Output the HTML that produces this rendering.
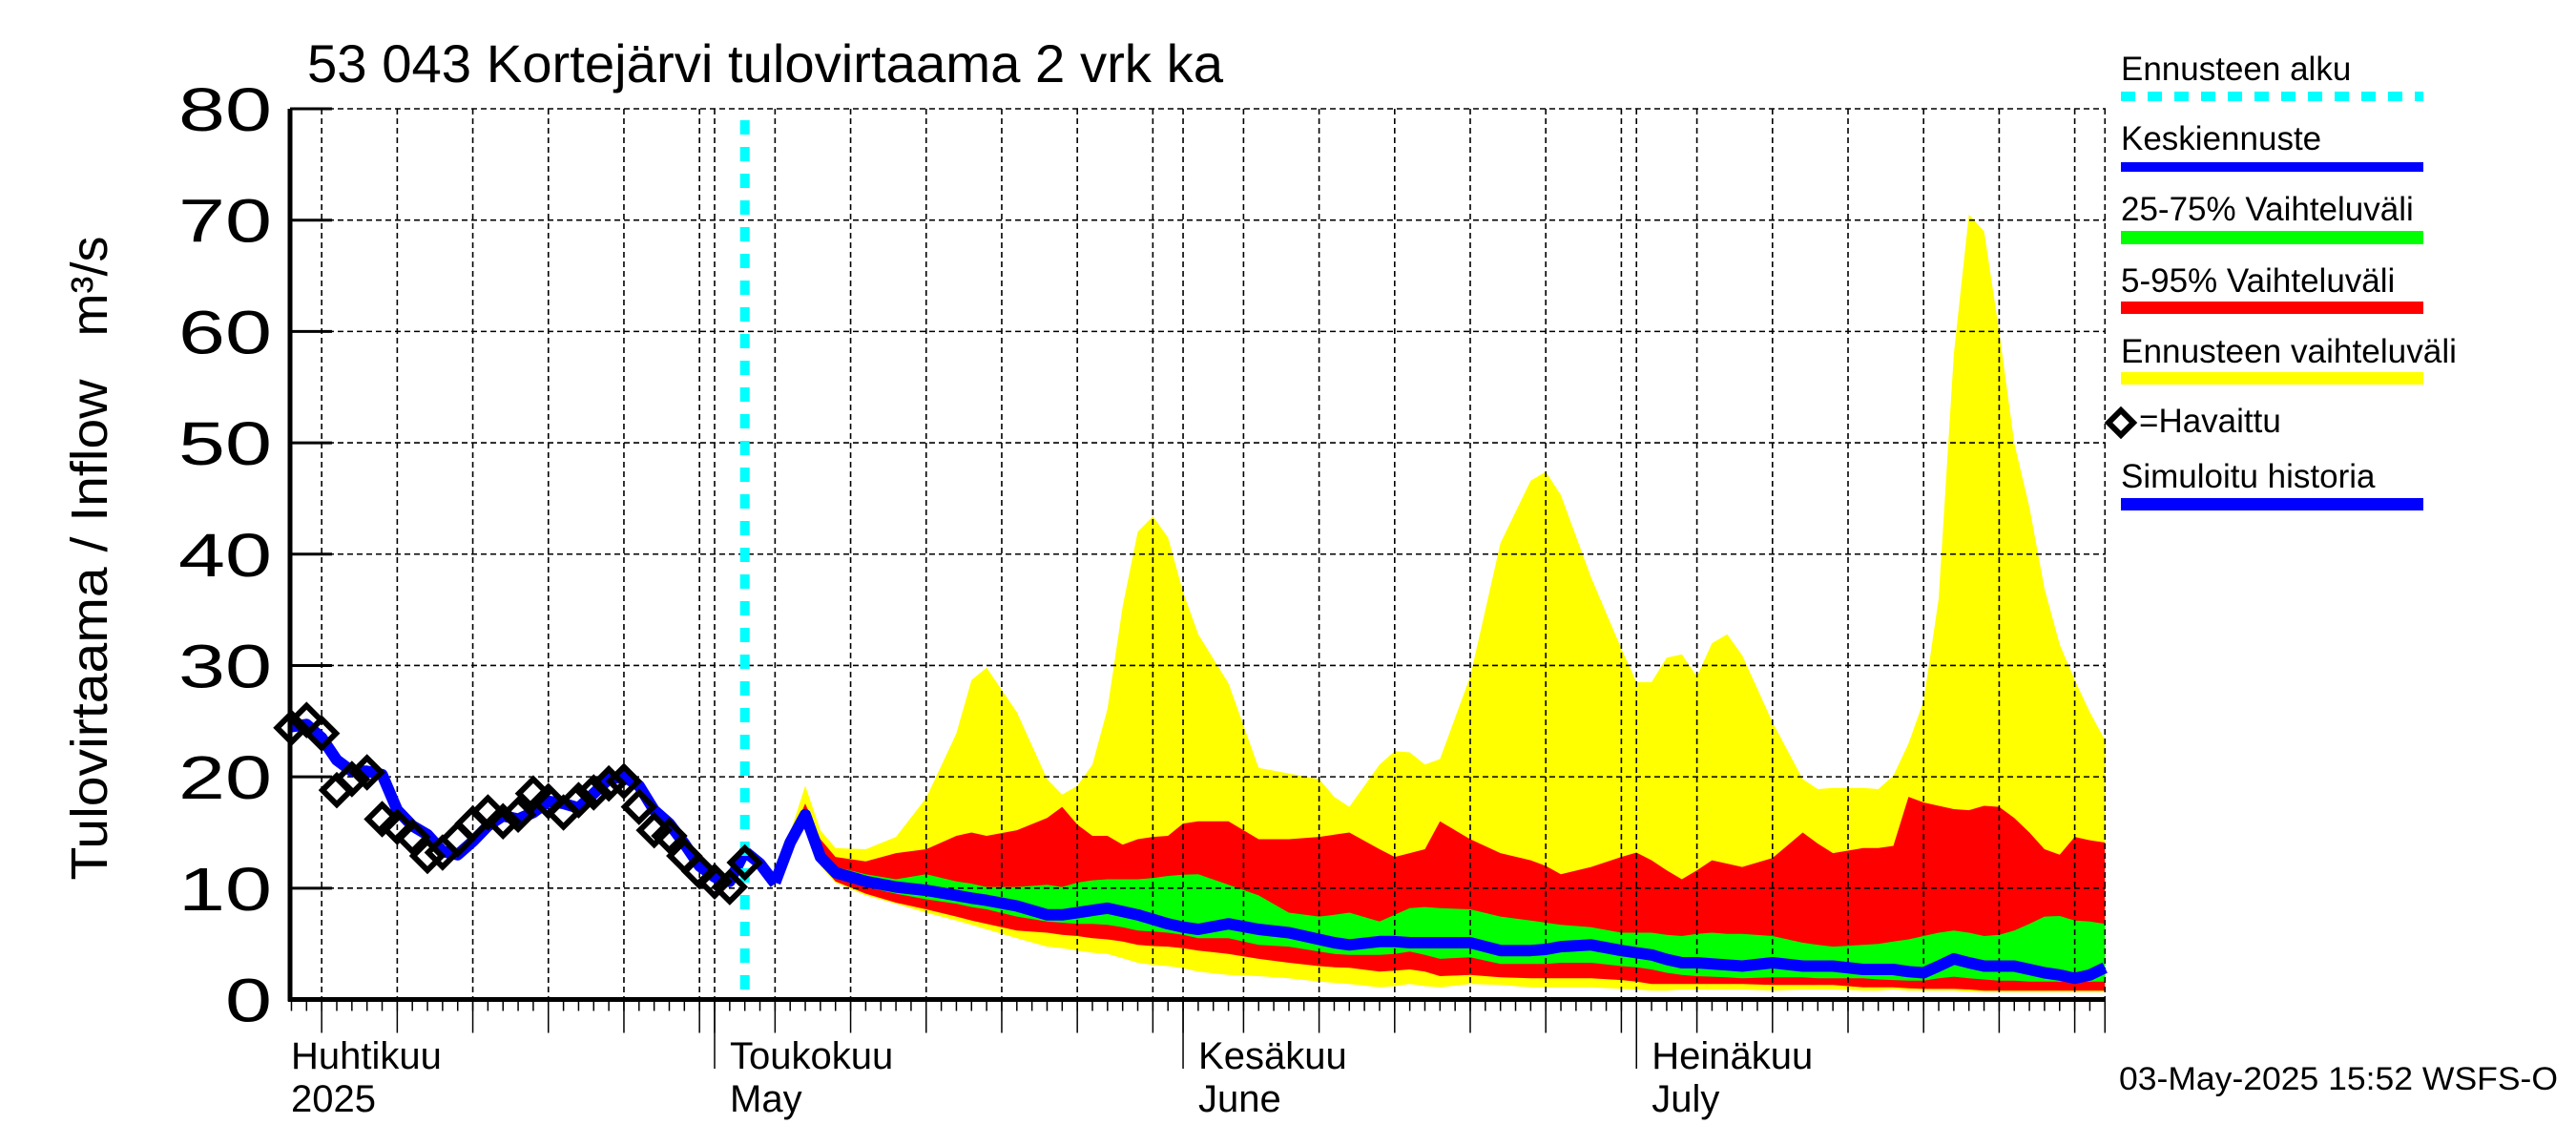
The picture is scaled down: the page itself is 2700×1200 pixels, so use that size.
<!DOCTYPE html>
<html><head><meta charset="utf-8"><style>
html,body{margin:0;padding:0;background:#fff;}
svg{display:block;font-family:"Liberation Sans",sans-serif;}
</style></head><body>
<svg id="chart" width="2700" height="1200" viewBox="0 0 2700 1200" xmlns="http://www.w3.org/2000/svg">
<rect x="0" y="0" width="2700" height="1200" fill="#fff"/>
<g id="bands"></g>
<g id="grid"></g>
<g id="lines"></g>
<g id="axes"></g>
<text x="322" y="86" font-size="56" textLength="960" lengthAdjust="spacingAndGlyphs">53 043 Kortejärvi tulovirtaama 2 vrk ka</text>
<text transform="translate(112,585) rotate(-90)" text-anchor="middle" font-size="54"><tspan textLength="525" lengthAdjust="spacingAndGlyphs">Tulovirtaama / Inflow</tspan><tspan dx="45">m³/s</tspan></text>
<g id="legend">
  <text x="2223" y="84" font-size="35">Ennusteen alku</text>
  <line x1="2223" y1="101" x2="2540" y2="101" stroke="#00ffff" stroke-width="10" stroke-dasharray="15 13"/>
  <text x="2223" y="157" font-size="35">Keskiennuste</text>
  <rect x="2223" y="170" width="317" height="10" fill="#0000ff"/>
  <text x="2223" y="231" font-size="35">25-75% Vaihteluväli</text>
  <rect x="2223" y="242" width="317" height="14" fill="#00ff00"/>
  <text x="2223" y="306" font-size="35">5-95% Vaihteluväli</text>
  <rect x="2223" y="316" width="317" height="13" fill="#ff0000"/>
  <text x="2223" y="380" font-size="35" textLength="352" lengthAdjust="spacingAndGlyphs">Ennusteen vaihteluväli</text>
  <rect x="2223" y="390" width="317" height="13" fill="#ffff00"/>
  <path d="M2223 430 L2236 443 L2223 456 L2210 443 Z" fill="none" stroke="#000" stroke-width="6"/>
  <text x="2242" y="453" font-size="35">=Havaittu</text>
  <text x="2223" y="511" font-size="35">Simuloitu historia</text>
  <rect x="2223" y="522" width="317" height="13" fill="#0000ff"/>
</g>
<text x="2221" y="1142" font-size="34" textLength="460" lengthAdjust="spacingAndGlyphs">03-May-2025 15:52 WSFS-O</text>
</svg>
<script>
// ---- data ----
const yTicks = [0,10,20,30,40,50,60,70,80];
const monthStarts = [-30, 0, 31, 61, 92];
const monthLabelsFi = ["Huhtikuu","Toukokuu","Kesäkuu","Heinäkuu"];
const monthLabelsEn = ["2025","May","June","July"];
const monthLabelDays = [-28, 0, 31, 61];
const gridDays = [-26,-21,-16,-11,-6,-1,0,4,9,14,19,24,29,31,35,40,45,50,55,60,61,65,70,75,80,85,90,92];
const forecastStartDay = 2.0;
const obsStartDay = -28;
const observed = [24.4,25.1,23.9,18.8,19.8,20.4,16.2,15.5,14.6,12.9,13.2,14.4,15.8,16.8,16.0,16.6,18.5,17.8,16.8,17.9,18.6,19.4,19.6,17.3,15.2,14.7,12.9,11.5,10.6,10.1,12.3];
const simStartDay = -28;
const simulated = [24.5,24.7,23.5,21.5,20.5,20.5,20.2,17.0,15.6,14.8,13.3,13.0,14.2,15.6,16.5,16.2,16.8,17.8,17.6,17.2,18.5,19.8,20.0,19.2,17.0,15.8,14.0,12.0,11.0,10.6,13.3,12.2,10.4];
const forecastDays = [4,5,6,7,8,10,12,14,16,17,18,20,22,23,24,25,26,27,28,29,30,31,32,34,36,38,40,41,42,44,45,46,47,48,50,52,54,55,56,58,60,61,62,63,64,65,66,67,68,70,72,73,74,76,77,78,79,80,81,82,83,84,85,86,87,88,89,90,91,92];
const rangeMax = [10.5,15.0,19.2,15.2,13.6,13.5,14.6,18.1,23.9,28.7,29.8,25.8,19.8,18.4,19.2,21.1,26.1,35.3,42.0,43.4,41.5,36.6,32.8,28.4,20.8,20.3,19.8,18.2,17.3,21.1,22.3,22.2,21.1,21.6,29.0,41.0,46.6,47.4,45.3,37.9,31.5,28.5,28.5,30.7,31.0,29.0,32.0,32.8,30.9,24.9,19.8,18.9,19.0,19.0,18.9,20.1,23.0,26.8,36.0,58.0,70.5,69.0,60.0,50.0,44.2,36.9,31.9,28.7,25.8,23.3];
const p95 = [10.5,14.5,17.6,14.4,12.8,12.4,13.15,13.5,14.7,15.0,14.7,15.2,16.3,17.3,15.7,14.7,14.7,13.9,14.4,14.6,14.7,15.8,16.0,16.0,14.4,14.4,14.6,14.8,15.0,13.5,12.8,13.15,13.5,16.0,14.4,13.15,12.5,12.0,11.25,11.9,12.8,13.2,12.5,11.6,10.8,11.6,12.5,12.2,11.9,12.7,15.0,14.0,13.15,13.6,13.6,13.8,18.2,17.7,17.4,17.1,17.0,17.4,17.3,16.3,15.0,13.5,13.0,14.6,14.3,14.1];
const p75 = [10.5,14.3,17.0,13.3,11.9,11.25,10.8,11.25,10.6,10.4,10.1,10.1,10.3,10.1,10.5,10.7,10.8,10.8,10.8,10.9,11.1,11.2,11.25,10.3,9.35,7.8,7.45,7.6,7.8,7.0,7.6,8.2,8.3,8.2,8.1,7.45,7.1,6.9,6.7,6.5,6.0,6.0,6.0,5.8,5.7,5.9,6.0,5.9,5.9,5.7,5.1,4.9,4.75,4.9,5.0,5.2,5.4,5.7,6.0,6.2,6.0,5.7,5.8,6.2,6.8,7.45,7.5,7.1,7.0,6.8];
const median = [10.5,14.1,16.6,12.8,11.4,10.6,10.1,9.8,9.35,9.1,8.9,8.4,7.6,7.6,7.8,8.0,8.2,7.9,7.6,7.2,6.8,6.5,6.3,6.8,6.3,6.0,5.4,5.1,4.9,5.2,5.2,5.1,5.1,5.1,5.1,4.4,4.4,4.5,4.75,4.9,4.4,4.2,4.0,3.6,3.3,3.3,3.2,3.1,3.0,3.3,3.0,3.0,3.0,2.7,2.7,2.7,2.5,2.4,3.0,3.65,3.3,3.0,3.0,3.0,2.7,2.4,2.2,1.9,2.2,2.85];
const p25 = [10.5,13.9,16.2,12.5,10.9,10.1,9.5,9.0,8.6,8.3,8.1,7.45,7.0,6.9,6.8,6.8,6.7,6.5,6.2,6.1,6.0,5.8,5.5,5.5,4.9,4.75,4.3,4.1,4.0,4.0,4.1,4.3,4.0,3.65,3.8,3.2,3.2,3.2,3.3,3.3,3.0,2.9,2.7,2.4,2.2,2.1,2.05,2.0,1.9,2.0,2.0,1.9,1.9,1.9,1.8,1.75,1.7,1.7,1.9,2.05,1.9,1.8,1.7,1.7,1.6,1.6,1.6,1.6,1.6,1.6];
const p5 = [10.5,13.6,15.7,12.2,10.6,9.5,8.7,8.1,7.45,7.1,6.8,6.2,6.0,5.8,5.7,5.5,5.4,5.2,4.9,4.8,4.75,4.6,4.4,4.1,3.65,3.3,3.0,2.9,2.85,2.5,2.6,2.7,2.5,2.1,2.2,2.0,1.9,1.9,1.9,1.9,1.75,1.6,1.4,1.4,1.4,1.4,1.4,1.4,1.4,1.3,1.3,1.3,1.3,1.1,1.1,1.1,1.0,0.95,0.95,0.95,0.9,0.8,0.8,0.8,0.8,0.8,0.8,0.8,0.8,0.8];
const rangeMin = [10.5,13.4,15.4,12.0,10.5,9.35,8.6,7.8,7.1,6.7,6.3,5.5,4.75,4.6,4.4,4.2,4.1,3.7,3.3,3.1,3.0,2.8,2.5,2.2,2.1,1.9,1.6,1.5,1.4,1.1,1.2,1.4,1.2,1.1,1.4,1.3,1.1,1.1,1.1,1.1,0.95,0.9,0.8,0.8,0.9,0.9,0.9,0.9,0.9,0.8,0.9,0.9,0.9,0.8,0.8,0.9,0.8,0.8,0.8,0.8,0.7,0.65,0.65,0.65,0.65,0.65,0.65,0.65,0.65,0.65];

// ---- axes functions ----
const X0 = 749, DAYPX = 15.84, LEFT = 304, RIGHT = 2207, TOP = 114, BOTTOM = 1047.5;
const xOf = d => X0 + DAYPX * d;
const yOf = v => BOTTOM - (BOTTOM - TOP) * v / 80;
const NS = "http://www.w3.org/2000/svg";
function mk(tag, attrs, parent) {
  const el = document.createElementNS(NS, tag);
  for (const k in attrs) el.setAttribute(k, attrs[k]);
  parent.appendChild(el);
  return el;
}
const bands = document.getElementById('bands');
const grid = document.getElementById('grid');
const lines = document.getElementById('lines');
const axes = document.getElementById('axes');

function bandPath(upper, lower) {
  let d = '';
  forecastDays.forEach((t, i) => { d += (i ? 'L' : 'M') + xOf(t).toFixed(1) + ' ' + yOf(upper[i]).toFixed(1); });
  for (let i = forecastDays.length - 1; i >= 0; i--) d += 'L' + xOf(forecastDays[i]).toFixed(1) + ' ' + yOf(lower[i]).toFixed(1);
  return d + 'Z';
}
const yb = mk('path', {d: bandPath(rangeMax, rangeMin), fill: '#ffff00'}, bands);


const rb = mk('path', {d: bandPath(p95, p5), fill: '#ff0000'}, bands);


const gb = mk('path', {d: bandPath(p75, p25), fill: '#00ff00'}, bands);



// grid
yTicks.forEach(v => {
  if (v === 0) return;
  const g = mk('line', {x1: LEFT, x2: RIGHT, y1: yOf(v), y2: yOf(v), stroke: '#000', 'stroke-width': 1.6, 'stroke-dasharray': '6 4'}, grid);
  
  
});
gridDays.forEach(d => {
  const g = mk('line', {x1: xOf(d), x2: xOf(d), y1: TOP, y2: BOTTOM, stroke: '#000', 'stroke-width': 1.6, 'stroke-dasharray': '6 4'}, grid);
  
  
});

// series lines
function linePath(days, vals) {
  return vals.map((v, i) => (i ? 'L' : 'M') + xOf(days[i]).toFixed(1) + ' ' + yOf(v).toFixed(1)).join('');
}
const simDays = simulated.map((_, i) => simStartDay + i);
const sl = mk('path', {d: linePath(simDays, simulated), fill: 'none', stroke: '#0000ff', 'stroke-width': 12, 'stroke-linejoin': 'round'}, lines);


const ml = mk('path', {d: linePath(forecastDays, median), fill: 'none', stroke: '#0000ff', 'stroke-width': 12, 'stroke-linejoin': 'round'}, lines);


const cl = mk('line', {x1: xOf(forecastStartDay), x2: xOf(forecastStartDay), y1: TOP + 12, y2: BOTTOM, stroke: '#00ffff', 'stroke-width': 10, 'stroke-dasharray': '15 13'}, lines);


observed.forEach((v, i) => {
  const cx = xOf(obsStartDay + i), cy = yOf(v), r = 15;
  const p = mk('path', {d: `M${cx} ${cy - r}L${cx + r} ${cy}L${cx} ${cy + r}L${cx - r} ${cy}Z`, fill: 'none', stroke: '#000', 'stroke-width': 6}, lines);
  
  
});

// axes
const ya = mk('line', {x1: LEFT, x2: LEFT, y1: TOP, y2: BOTTOM + 2, stroke: '#000', 'stroke-width': 5}, axes);


const xa = mk('line', {x1: LEFT - 2, x2: RIGHT, y1: BOTTOM, y2: BOTTOM, stroke: '#000', 'stroke-width': 5}, axes);


yTicks.forEach(v => {
  const t = mk('line', {x1: LEFT, x2: LEFT + 44, y1: yOf(v), y2: yOf(v), stroke: '#000', 'stroke-width': 3}, axes);
  
  
  const s = String(v);
  const l = mk('text', {x: 285, y: yOf(v) + 23, 'text-anchor': 'end', 'font-size': 64, textLength: s.length * 49, lengthAdjust: 'spacingAndGlyphs'}, axes);
  l.textContent = s;
  
  
});
for (let d = -28; d <= 92; d++) {
  const t = mk('line', {x1: xOf(d), x2: xOf(d), y1: BOTTOM, y2: BOTTOM + 12, stroke: '#000', 'stroke-width': 1.5}, axes);
  
  
}
gridDays.forEach(d => {
  const t = mk('line', {x1: xOf(d), x2: xOf(d), y1: BOTTOM, y2: BOTTOM + 35, stroke: '#000', 'stroke-width': 1.5}, axes);
  
  
});
monthStarts.forEach(d => {
  if (d < -28 || d > 91) return;
  const t = mk('line', {x1: xOf(d), x2: xOf(d), y1: BOTTOM, y2: 1120, stroke: '#000', 'stroke-width': 1.5}, axes);
  
  
});
monthLabelDays.forEach((d, i) => {
  const x = i === 0 ? 305 : xOf(d) + 16;
  const a = mk('text', {x: x, y: 1120, 'font-size': 40}, axes);
  a.textContent = monthLabelsFi[i];
  
  
  const b = mk('text', {x: x, y: 1165, 'font-size': 40}, axes);
  b.textContent = monthLabelsEn[i];
  
  
});
</script>
</body></html>
